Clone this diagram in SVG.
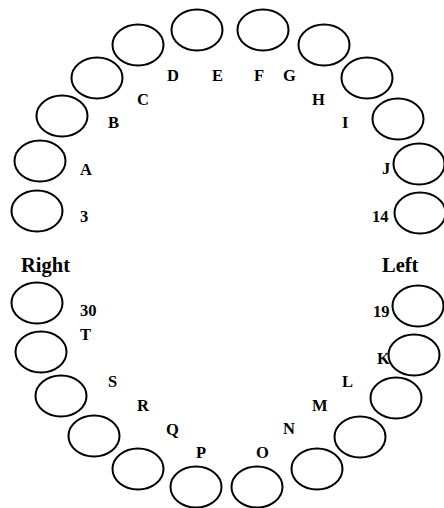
<svg xmlns="http://www.w3.org/2000/svg" width="444" height="508" viewBox="0 0 444 508">
<style>
.n ellipse{fill:#fff;stroke:#000;stroke-width:2}
text{font-family:"Liberation Serif","Times New Roman",serif;font-weight:bold;font-size:16.5px;fill:#000}
.big{font-size:20.5px}
</style>
<rect width="444" height="508" fill="#fff"/>
<g id="seats" class="n">
<g id="s1"><ellipse cx="37" cy="211" rx="25.5" ry="20.5"/></g>
<g id="s2"><ellipse cx="40" cy="161" rx="25.5" ry="20.5"/></g>
<g id="s3"><ellipse cx="62" cy="116" rx="25.5" ry="20.5"/></g>
<g id="s4"><ellipse cx="97" cy="78" rx="25.5" ry="20.5"/></g>
<g id="s5"><ellipse cx="138" cy="45" rx="25.5" ry="20.5"/></g>
<g id="s6"><ellipse cx="197" cy="30" rx="25.5" ry="20.5"/></g>
<g id="s7"><ellipse cx="263" cy="30" rx="25.5" ry="20.5"/></g>
<g id="s8"><ellipse cx="324" cy="45" rx="25.5" ry="20.5"/></g>
<g id="s9"><ellipse cx="367" cy="78" rx="25.5" ry="20.5"/></g>
<g id="s10"><ellipse cx="398" cy="119" rx="25.5" ry="20.5"/></g>
<g id="s11"><ellipse cx="419" cy="164" rx="25.5" ry="20.5"/></g>
<g id="s12"><ellipse cx="420" cy="213" rx="25.5" ry="20.5"/></g>
<g id="s13"><ellipse cx="418" cy="306" rx="25.5" ry="20.5"/></g>
<g id="s14"><ellipse cx="414" cy="355" rx="25.5" ry="20.5"/></g>
<g id="s15"><ellipse cx="396" cy="398" rx="25.5" ry="20.5"/></g>
<g id="s16"><ellipse cx="360" cy="437" rx="25.5" ry="20.5"/></g>
<g id="s17"><ellipse cx="317" cy="469" rx="25.5" ry="20.5"/></g>
<g id="s18"><ellipse cx="257" cy="487" rx="25.5" ry="20.5"/></g>
<g id="s19"><ellipse cx="196" cy="487" rx="25.5" ry="20.5"/></g>
<g id="s20"><ellipse cx="138" cy="469" rx="25.5" ry="20.5"/></g>
<g id="s21"><ellipse cx="94" cy="436" rx="25.5" ry="20.5"/></g>
<g id="s22"><ellipse cx="61" cy="396" rx="25.5" ry="20.5"/></g>
<g id="s23"><ellipse cx="41" cy="352" rx="25.5" ry="20.5"/></g>
<g id="s24"><ellipse cx="37" cy="303" rx="25.5" ry="20.5"/></g>
</g>
<g id="connectors"/>
<g id="labels">
<text x="80" y="175">A</text>
<text x="108" y="128">B</text>
<text x="137" y="105">C</text>
<text x="167" y="81">D</text>
<text x="212" y="81">E</text>
<text x="254" y="81">F</text>
<text x="283" y="81">G</text>
<text x="312" y="105">H</text>
<text x="342" y="128">I</text>
<text x="382" y="174">J</text>
<text x="377" y="364">K</text>
<text x="342" y="387">L</text>
<text x="312" y="411">M</text>
<text x="283" y="434">N</text>
<text x="256" y="458">O</text>
<text x="196" y="458">P</text>
<text x="166" y="435">Q</text>
<text x="137" y="411">R</text>
<text x="108" y="387">S</text>
<text x="80" y="340">T</text>
<text x="80" y="222">3</text>
<text x="372" y="222">14</text>
<text x="373" y="317">19</text>
<text x="80" y="316">30</text>
<text class="big" x="21" y="272">Right</text>
<text class="big" x="382" y="272">Left</text>
</g>
</svg>
